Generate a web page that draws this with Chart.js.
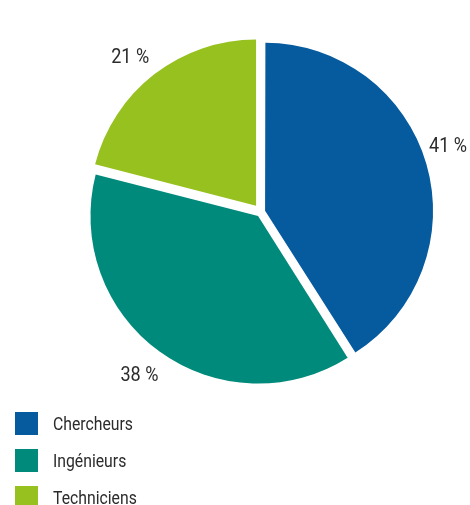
<!DOCTYPE html>
<html>
<head>
<meta charset="utf-8">
<script src="https://cdn.jsdelivr.net/npm/chart.js@4"></script>
<style>
    body { margin: 0; background: #fff; }
    #wrap { position: relative; width: 470px; height: 505px; overflow: hidden; }
    #pie { position: absolute; left: 0; top: 0; }
    #legend { position: absolute; left: 15px; top: 412px; }
    .item { position: relative; height: 37px; }
    .item span.box { position: absolute; left: 0; top: 0; width: 23px; height: 23px; }
    .item span.txt { position: absolute; left: 38px; top: 0; line-height: 23px;
        font-family: Roboto, sans-serif; font-size: 19px; color: #2b2b2b; white-space: nowrap;
        transform: scaleX(0.83); transform-origin: left center; }
</style>
</head>
<body>
<div id="wrap">
    <canvas id="pie" width="470" height="505"></canvas>
    <div id="legend"></div>
</div>
<script>
const categories = ["Chercheurs", "Ingénieurs", "Techniciens"]
const shares = [41, 38, 21]
const colors = ["#065B9F", "#008A7B", "#96C11F"]
const offsets = [17, 20, 32]

// legend built from the same arrays
const legend = document.getElementById("legend")
categories.forEach((name, i) => {
    const row = document.createElement("div")
    row.className = "item"
    row.innerHTML = '<span class="box" style="background:' + colors[i] + '"></span><span class="txt">' + name + '</span>'
    legend.appendChild(row)
})

// percentage labels outside each slice (condensed look: squeeze roboto a bit)
const labelTurn = [-0.055, 0.01, -0.045]
const labelGap = [28, 33, 28]
const pctLabels = {
    id : "pctLabels",
    afterDatasetsDraw(chart) {
        const ctx = chart.ctx
        const meta = chart.getDatasetMeta(0)
        meta.data.forEach((arc, i) => {
            const mid = (arc.startAngle + arc.endAngle) / 2 + labelTurn[i]
            const d = offsets[i] / 4 + arc.outerRadius + labelGap[i]
            const x = arc.x + Math.cos(mid) * d
            const y = arc.y + Math.sin(mid) * d
            ctx.save()
            ctx.translate(x, y)
            ctx.scale(0.86, 1)
            ctx.font = "21px Roboto, sans-serif"
            ctx.fillStyle = "#2b2b2b"
            ctx.textAlign = "center"
            ctx.textBaseline = "middle"
            ctx.fillText(shares[i] + " %", 0, 0)
            ctx.restore()
        })
    },
}

const pieChart = new Chart(document.getElementById("pie").getContext("2d"), {
    type : "pie",
    data : {
        labels : categories,
        datasets : [{
            data : shares,
            backgroundColor : colors,
            borderWidth : 0,
            offset : offsets,
            radius : 166,
        }],
    },
    options : {
        responsive : false,
        animation : false,
        layout : {
            padding : { left : 52, top : 0, right : 0, bottom : 81 },
        },
        plugins : {
            legend : { display : false },
            tooltip : { enabled : false },
        },
    },
    plugins : [pctLabels],
})
</script>
</body>
</html>
